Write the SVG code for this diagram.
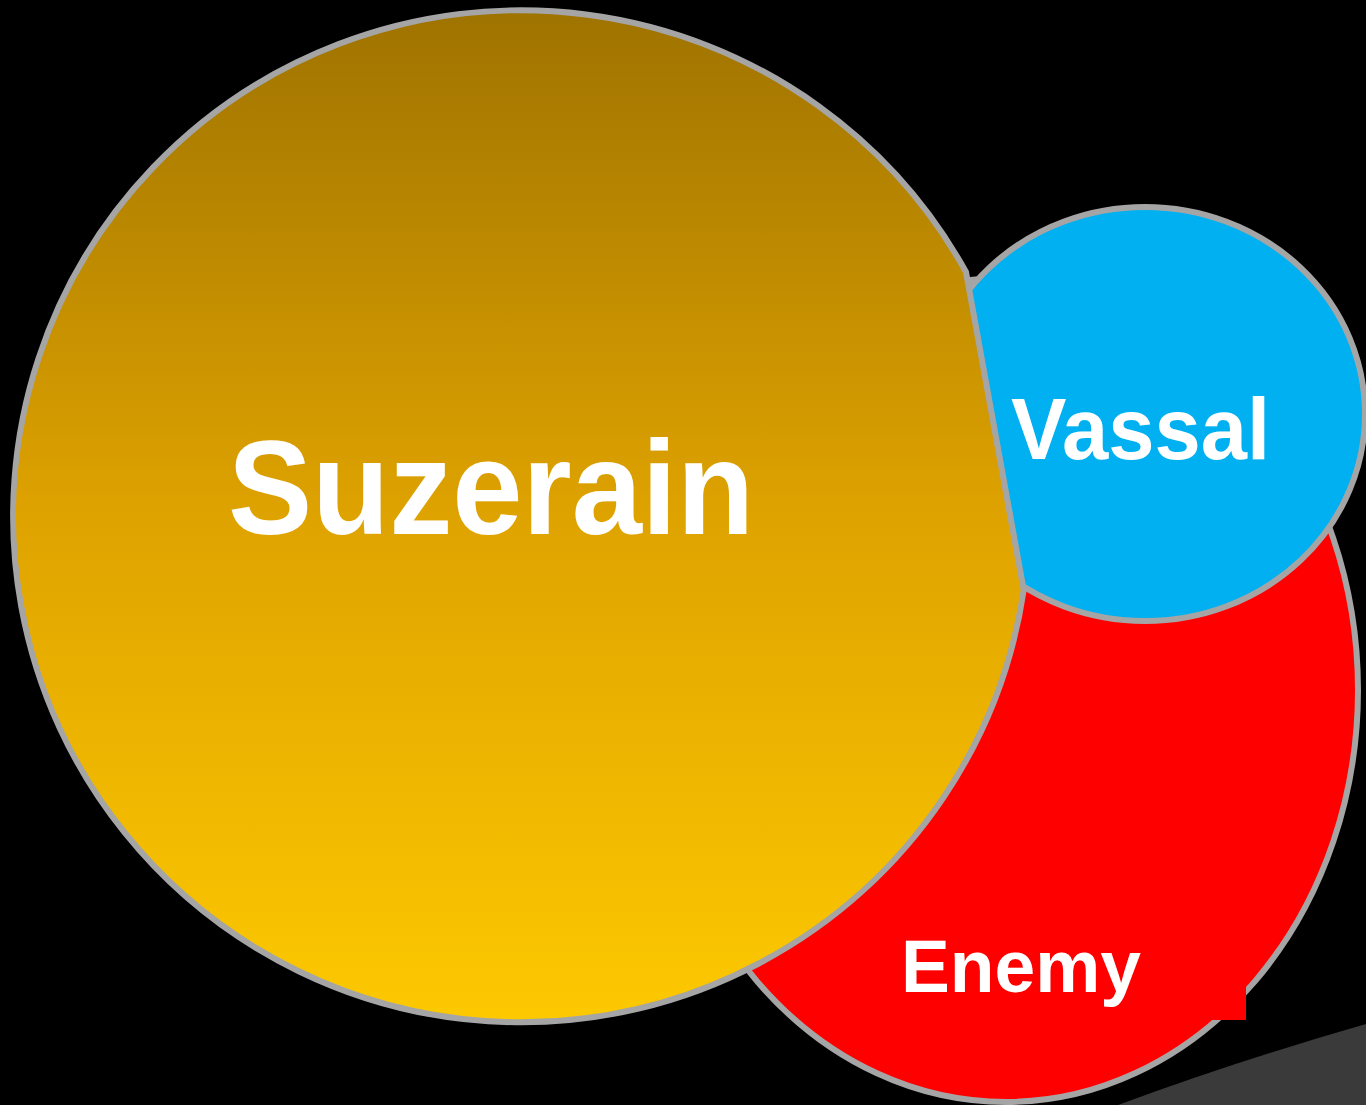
<svg xmlns="http://www.w3.org/2000/svg" width="1366" height="1105" viewBox="0 0 1366 1105">
  <defs>
    <linearGradient id="goldGrad" gradientUnits="userSpaceOnUse" x1="0" y1="10" x2="0" y2="1023">
      <stop offset="0" stop-color="#9f7300"/>
      <stop offset="0.5" stop-color="#dfa300"/>
      <stop offset="1" stop-color="#fdc900"/>
    </linearGradient>
  </defs>
  <style>
    .shape { stroke: #a5a5a5; stroke-width: 6; stroke-linejoin: miter; }
    .label { font-family: "Liberation Sans", Arial, sans-serif; font-weight: bold; fill: #ffffff; }
  </style>
  <rect x="0" y="0" width="1366" height="1105" fill="#000000"/>
  <path id="backdrop" d="M1118,1105 Q1240,1060 1366,1024 L1366,1105 Z" fill="#3a3a3a"/>
  <g id="connectors"></g>
  <g id="enemy">
    <ellipse class="shape" cx="1006" cy="690" rx="352" ry="412" fill="#ff0000"/>
    <rect x="1180" y="960" width="66" height="60" fill="#ff0000"/>
    <text class="label" x="901" y="992" font-size="74" textLength="240" lengthAdjust="spacingAndGlyphs">Enemy</text>
  </g>
  <g id="vassal">
    <ellipse class="shape" cx="1145" cy="414" rx="220" ry="207" fill="#00b0f0"/>
    <text class="label" x="1011" y="459" font-size="87" textLength="259" lengthAdjust="spacingAndGlyphs">Vassal</text>
  </g>
  <g id="suzerain">
    <path class="shape" d="M966,272 A508,506 0 1,0 1023.7,590 Z" fill="url(#goldGrad)"/>
    <text class="label" x="228" y="534" font-size="133" textLength="526" lengthAdjust="spacingAndGlyphs">Suzerain</text>
  </g>
</svg>
